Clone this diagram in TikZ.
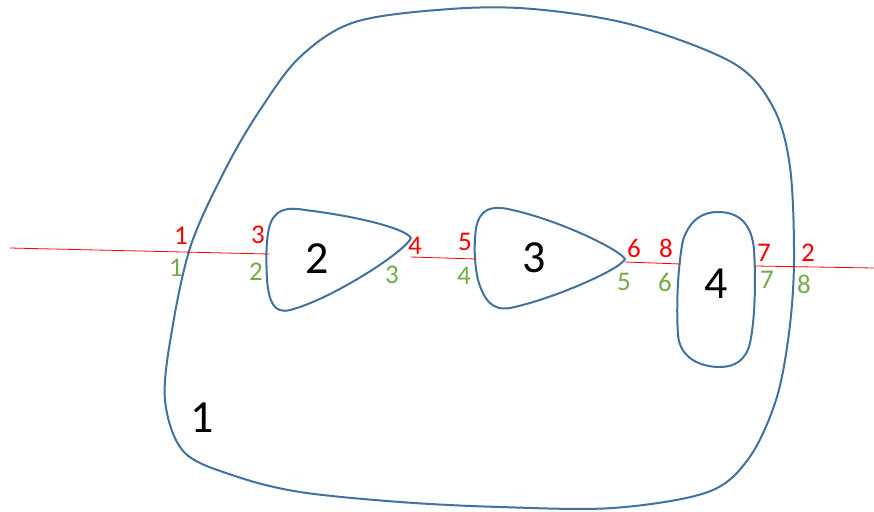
\documentclass[tikz,border=0pt]{standalone}
\usepackage{fontspec}
\setmainfont{Carlito}
\definecolor{blobblue}{HTML}{41719C}
\definecolor{cutred}{HTML}{FF0000}
\definecolor{numgreen}{HTML}{70AD47}
\begin{document}
\begin{tikzpicture}[x=1pt,y=-1pt,
  blob/.style={draw=blobblue,line width=2pt},
  cut/.style={draw=cutred,line width=0.8pt},
  rlab/.style={text=cutred,font=\fontsize{27}{29}\selectfont,inner sep=0pt},
  glab/.style={text=numgreen,font=\fontsize{27}{29}\selectfont,inner sep=0pt},
  region/.style={text=black,font=\fontsize{46}{48}\selectfont,inner sep=0pt}]
\useasboundingbox (0,0) rectangle (874,511);
% outer blob
\draw[blob] plot[smooth cycle,tension=0.55] coordinates {
 (450,9) (533,9) (633,25) (733,63) (773,107) (790,167) (794,260) (789,333)
 (776,400) (749,458) (708,492) (613,508) (500,507) (400,502) (300,492) (235,476)
 (184,452) (165,400) (172,330) (191,245) (226,168) (260,110) (300,57) (355,22)};
% blob 2
\draw[blob] (269,228) .. controls (274,208) and (288,207) .. (305,210)
  .. controls (355,216) and (405,228) .. (411,238)
  .. controls (405,252) and (330,300) .. (290,310)
  .. controls (274,314) and (269,302) .. (267,280)
  .. controls (266,258) and (266,242) .. (269,228) -- cycle;
% blob 3
\draw[blob] (476,228) .. controls (480,208) and (492,206) .. (508,209)
  .. controls (560,220) and (620,250) .. (625,259)
  .. controls (620,270) and (550,300) .. (510,308)
  .. controls (492,311) and (484,300) .. (478,280)
  .. controls (474,262) and (474,245) .. (476,228) -- cycle;
% blob 4
\draw[blob] (683,240) .. controls (690,220) and (702,212) .. (718,212)
  .. controls (740,212) and (752,225) .. (754,250)
  .. controls (756,280) and (755,320) .. (750,343)
  .. controls (746,360) and (735,367) .. (720,367)
  .. controls (700,367) and (680,358) .. (678,335)
  .. controls (676,305) and (678,265) .. (683,240) -- cycle;
% cutting line
\coordinate (c0) at (10,248);
\coordinate (c1) at (269,254);
\coordinate (c2) at (411,257);
\coordinate (c3) at (476,259);
\coordinate (c4) at (625,262);
\coordinate (c5) at (681,264);
\coordinate (c6) at (755,266);
\coordinate (c7) at (874,268);
\draw[cut] (c0) -- (c1);
\draw[cut] (c2) -- (c3);
\draw[cut] (c4) -- (c5);
\draw[cut] (c6) -- (c7);
% red labels
\node[rlab] (r1) at (181,236) {1};
\node[rlab] (r3) at (258,235) {3};
\node[rlab] (r4) at (415,246) {4};
\node[rlab] (r5) at (465,242) {5};
\node[rlab] (r6) at (634,248) {6};
\node[rlab] (r8) at (666,248) {8};
\node[rlab] (r7) at (764,253) {7};
\node[rlab] (r2) at (808,253) {2};
% green labels
\node[glab] (g1) at (176,268) {1};
\node[glab] (g2) at (256,272) {2};
\node[glab] (g3) at (392,275) {3};
\node[glab] (g4) at (464,276) {4};
\node[glab] (g5) at (624,282) {5};
\node[glab] (g6) at (665,282) {6};
\node[glab] (g7) at (767,280) {7};
\node[glab] (g8) at (804,284) {8};
% region labels
\node[region] (n2) at (317,259) {2};
\node[region] (n3) at (534,258) {3};
\node[region] (n4) at (716,284) {4};
\node[region] (n1) at (202,418) {1};
\end{tikzpicture}
\end{document}
